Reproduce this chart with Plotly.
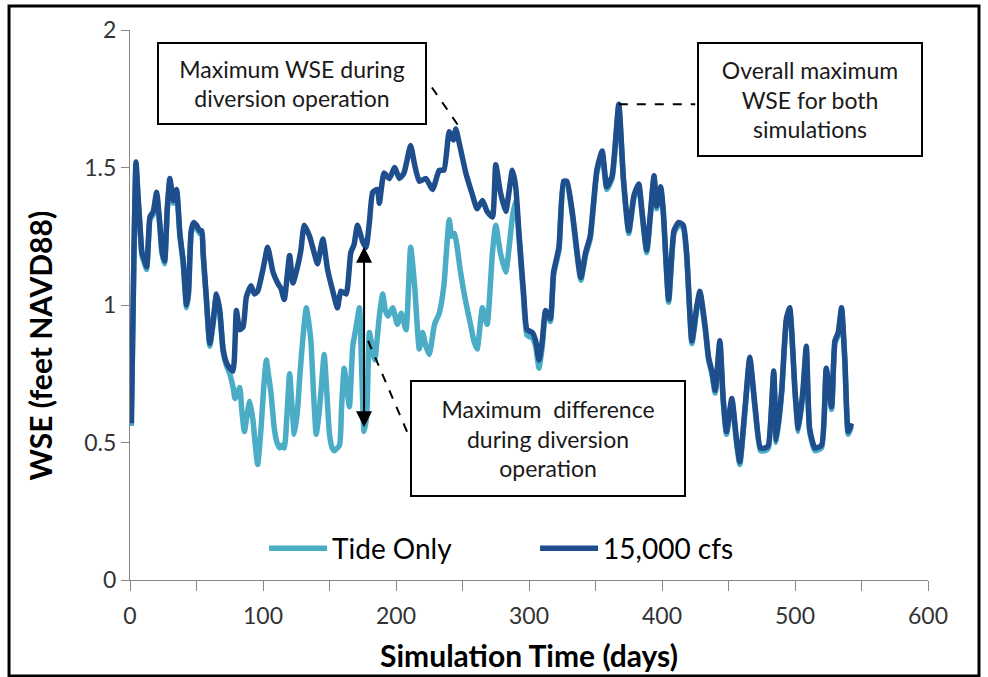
import numpy as np
import plotly.graph_objects as go

# ---------------- data ----------------
days_15k = [1, 3, 4.5, 6, 7.5, 9, 11, 12.5, 14, 15,
            17.5, 20, 22.5, 24, 26, 28, 30, 32.5, 35, 37.5,
            40, 42.5, 44, 46, 48, 50, 52.5, 54, 55, 57.5,
            60, 62.5, 65, 67.5, 70, 72.5, 75, 77.5, 80, 82.5,
            85, 87.5, 91, 93.5, 96, 100, 103.5, 107.5, 111, 113.5,
            116, 120, 122.5, 126, 128.5, 131, 135, 139, 141, 145,
            148.5, 152.5, 156, 158.5, 162.5, 166, 168.5, 171, 175, 177.5,
            180, 182.5, 186, 187.5, 191, 195, 199, 202.5, 206, 211,
            214, 217.5, 222.5, 227.5, 232.5, 236, 240, 243, 245, 247.5,
            252.5, 257.5, 261, 265, 268.5, 272.5, 275, 278.5, 282.5, 287.5,
            290, 292.5,
            296, 298.5, 302.5, 305, 307.5, 310, 312.5, 316, 318.5, 322.5,
            326, 328.5, 332.5, 339, 342.5, 346, 351, 355, 358.5, 362.5,
            367.5, 371, 375, 379, 382.5, 385, 388.5, 394, 396, 399,
            401, 405, 409, 412.5, 416, 418.5, 422.5, 426, 428.5, 432.5,
            435, 437.5, 440, 443.5, 446, 448.5, 452.5, 456, 458.5, 462.5,
            466, 470, 474, 477.5, 480, 484, 486, 490, 493.5, 496,
            500, 502.5, 506, 508.5, 511, 515, 520, 523.5, 527.5, 530,
            532.5, 535, 537.5, 540, 542.5]
wse_15k = [0.57, 1.20, 1.52, 1.40, 1.29, 1.19, 1.16, 1.14, 1.25, 1.32,
           1.34, 1.41, 1.29, 1.20, 1.16, 1.35, 1.46, 1.38, 1.42, 1.26,
           1.16, 1.00, 1.05, 1.27, 1.30, 1.29, 1.27, 1.27, 1.19, 1.02,
           0.86, 0.94, 1.04, 0.98, 0.84, 0.79, 0.77, 0.76, 0.98, 0.91,
           0.92, 1.03, 1.07, 1.04, 1.05, 1.13, 1.21, 1.12, 1.08, 1.06,
           1.02, 1.18, 1.08, 1.14, 1.20, 1.29, 1.25, 1.18, 1.15, 1.24,
           1.13, 1.05, 0.99, 1.05, 1.04, 1.19, 1.22, 1.29, 1.23, 1.21,
           1.30, 1.41, 1.42, 1.37, 1.48, 1.46, 1.50, 1.46, 1.48, 1.58,
           1.51, 1.45, 1.46, 1.42, 1.49, 1.49, 1.63, 1.60, 1.64, 1.59,
           1.48, 1.40, 1.35, 1.38, 1.34, 1.32, 1.51, 1.41, 1.34, 1.49,
           1.43, 1.26,
           1.04, 0.91, 0.90, 0.87, 0.80, 0.87, 0.98, 0.95, 1.12, 1.21,
           1.45, 1.45, 1.34, 1.10, 1.19, 1.25, 1.49, 1.56, 1.43, 1.47,
           1.73, 1.46, 1.27, 1.40, 1.44, 1.34, 1.20, 1.47, 1.36, 1.43,
           1.34, 1.02, 1.27, 1.30, 1.29, 1.19, 0.87, 0.99, 1.05, 0.92,
           0.81, 0.76, 0.69, 0.87, 0.66, 0.54, 0.66, 0.51, 0.43, 0.63,
           0.81, 0.63, 0.48, 0.48, 0.49, 0.76, 0.51, 0.69, 0.95, 0.99,
           0.69, 0.55, 0.69, 0.85, 0.55, 0.48, 0.49, 0.77, 0.63, 0.87,
           0.90, 0.99, 0.80, 0.54, 0.57]

days_tide = [1, 3, 4.5, 6, 7.5, 9, 11, 12.5, 14, 15,
             17.5, 20, 22.5, 24, 26, 28, 30, 32.5, 35, 37.5,
             40, 42.5, 44, 46, 48, 50, 52.5, 54, 55, 57.5,
             60, 62.5, 65, 67.5,
             70, 72.5, 75, 77.5, 79, 82.5, 84, 86, 88, 90,
             92.5, 94, 96, 98.5, 100.5, 102.5, 104, 106, 108.5, 110.5,
             112.5, 114, 116, 118, 120, 122, 123.5, 126, 127.5, 130,
             132.5, 134, 136, 138, 140, 142, 143.5, 146, 148, 150,
             152, 153.5, 157.5, 159, 161, 163, 165, 167.5, 170, 172.5,
             174, 176, 178, 180, 182, 184, 187.5, 190, 192, 194,
             197.5, 201, 204, 207.5, 211, 214, 217.5, 220, 222.5, 225,
             229, 232.5, 236, 240, 242, 244, 246, 248.5, 252.5, 256,
             258.5, 261, 265, 268.5, 272.5, 275, 278.5, 282.5, 287.5, 290,
             292.5,
             296, 298.5, 302.5, 305, 307.5, 310, 312.5, 316, 318.5, 322.5,
             326, 328.5, 332.5, 339, 342.5, 346, 351, 355, 358.5, 362.5,
             367.5, 371, 375, 379, 382.5, 385, 388.5, 394, 396, 399,
             401, 405, 409, 412.5, 416, 418.5, 422.5, 426, 428.5, 432.5,
             435, 437.5, 440, 443.5, 446, 448.5, 452.5, 456, 458.5, 462.5,
             466, 470, 474, 477.5, 480, 484, 486, 490, 493.5, 496,
             500, 502.5, 506, 508.5, 511, 515, 520, 523.5, 527.5, 530,
             532.5, 535, 537.5, 540, 542.5]
wse_tide = [0.56, 1.19, 1.51, 1.39, 1.28, 1.18, 1.15, 1.13, 1.24, 1.31,
            1.33, 1.40, 1.28, 1.19, 1.15, 1.34, 1.45, 1.37, 1.41, 1.25,
            1.15, 0.99, 1.04, 1.26, 1.29, 1.28, 1.26, 1.26, 1.18, 1.01,
            0.85, 0.93, 1.03, 0.97,
            0.83, 0.78, 0.75, 0.70, 0.66, 0.70, 0.62, 0.54, 0.60, 0.65,
            0.58, 0.50, 0.42, 0.55, 0.70, 0.80, 0.75, 0.68, 0.55, 0.50,
            0.48, 0.49, 0.48, 0.60, 0.75, 0.62, 0.53, 0.62, 0.73, 0.88,
            0.99, 0.95, 0.87, 0.68, 0.53, 0.60, 0.68, 0.82, 0.68, 0.53,
            0.48, 0.47, 0.49, 0.62, 0.77, 0.70, 0.63, 0.85, 0.92, 0.99,
            0.80, 0.54, 0.60, 0.90, 0.85, 0.80, 0.96, 1.04, 0.98, 0.96,
            0.99, 0.93, 0.97, 0.91, 1.21, 1.07, 0.84, 0.90, 0.85, 0.82,
            0.93, 0.97, 1.07, 1.31, 1.25, 1.26, 1.21, 1.12, 1.01, 0.93,
            0.87, 0.84, 0.99, 0.93, 1.19, 1.29, 1.19, 1.12, 1.32, 1.38,
            1.24,
            1.02, 0.89, 0.88, 0.85, 0.77, 0.85, 0.97, 0.94, 1.11, 1.20,
            1.44, 1.44, 1.33, 1.09, 1.18, 1.24, 1.48, 1.55, 1.42, 1.46,
            1.72, 1.45, 1.26, 1.39, 1.43, 1.33, 1.19, 1.46, 1.35, 1.42,
            1.33, 1.01, 1.26, 1.29, 1.28, 1.18, 0.86, 0.98, 1.04, 0.91,
            0.80, 0.75, 0.68, 0.86, 0.65, 0.53, 0.65, 0.50, 0.42, 0.62,
            0.80, 0.62, 0.47, 0.47, 0.48, 0.75, 0.50, 0.68, 0.94, 0.98,
            0.68, 0.54, 0.68, 0.84, 0.54, 0.47, 0.48, 0.76, 0.62, 0.86,
            0.89, 0.98, 0.79, 0.53, 0.56]

series_names = ["Tide Only", "15,000 cfs"]
x_tick_vals = [0, 50, 100, 150, 200, 250, 300, 350, 400, 450, 500, 550, 600]
x_tick_text = ["0", "", "100", "", "200", "", "300", "", "400", "", "500", "", "600"]
y_tick_vals = [0, 0.5, 1, 1.5, 2]
y_tick_text = ["0", "0.5", "1", "1.5", "2"]
diversion_window = [70, 295]

# ---------------- styling ----------------
LIGHT = "#4BACC6"
DARK = "#1F4E8C"
FONT = "Lato, Carlito, Calibri, sans-serif"

fig = go.Figure()
fig.add_trace(go.Scatter(x=days_tide, y=wse_tide, mode="lines", name=series_names[0],
                         line=dict(color=LIGHT, width=5.5, shape="spline", smoothing=0.5)))
fig.add_trace(go.Scatter(x=days_15k, y=wse_15k, mode="lines", name=series_names[1],
                         line=dict(color=DARK, width=5.5, shape="spline", smoothing=0.5)))

# derived annotation anchors from the data
d15 = np.array(days_15k); w15 = np.array(wse_15k)
dt = np.array(days_tide); wt = np.array(wse_tide)
overall_i = int(np.argmax(w15))
overall_day, overall_max = d15[overall_i], w15[overall_i]
win = (d15 >= diversion_window[0]) & (d15 <= diversion_window[1])
div_i = int(np.argmax(np.where(win, w15, -1)))
div_day, div_max = d15[div_i], w15[div_i]
wint = (dt >= diversion_window[0]) & (dt <= diversion_window[1])
diff = np.interp(dt, d15, w15) - wt
diff_i = int(np.argmax(np.where(wint, diff, -1)))
diff_day = dt[diff_i]
diff_lo = wt[diff_i]
diff_hi = float(np.interp(diff_day, d15, w15))

box = dict(showarrow=False, bordercolor="black", borderwidth=2, borderpad=0,
           bgcolor="white", font=dict(family=FONT, size=23, color="#1a1a1a"),
           xref="x", yref="y", xanchor="center", yanchor="middle", align="center")

annotations = [
    dict(text="Maximum WSE during<br>diversion operation", x=121.8, y=1.804,
         width=266, height=79, **box),
    dict(text="Maximum  difference<br>during diversion<br>operation", x=314.3, y=0.514,
         width=272, height=113, **box),
    dict(text="Overall maximum<br>WSE for both<br>simulations", x=511, y=1.746,
         width=222, height=111, **box),
    # double arrow for the maximum difference
    dict(x=diff_day, y=diff_hi - 0.01, ax=diff_day, ay=diff_lo + 0.01,
         xref="x", yref="y", axref="x", ayref="y", text="", showarrow=True,
         arrowhead=2, startarrowhead=2, arrowside="end+start",
         arrowsize=1.6, startarrowsize=1.6, arrowwidth=2, arrowcolor="black"),
    # y axis title (placed like the original, slightly below the axis centre)
    dict(text="<b>WSE (feet NAVD88)</b>", textangle=-90, showarrow=False,
         xref="paper", yref="paper", x=-0.113, y=0.426, xanchor="center", yanchor="middle",
         font=dict(family=FONT, size=30, color="#000")),
]

shapes = [
    # dashed leader lines
    dict(type="line", xref="x", yref="y", x0=227, y0=1.791, x1=div_day + 1.5, y1=div_max + 0.015,
         line=dict(color="black", width=2, dash="dash")),
    dict(type="line", xref="x", yref="y", x0=overall_day, y0=overall_max, x1=425, y1=overall_max,
         line=dict(color="black", width=2, dash="dash")),
    dict(type="line", xref="x", yref="y", x0=diff_day + 3, y0=0.87, x1=210, y1=0.52,
         line=dict(color="black", width=2, dash="dash")),
    # outer frame
    dict(type="rect", xref="paper", yref="paper", x0=-0.1516, y0=-0.1745, x1=1.0639, y1=1.0436,
         line=dict(color="black", width=3), fillcolor="rgba(0,0,0,0)"),
]

fig.update_layout(
    width=988, height=677,
    margin=dict(l=130, r=60, t=30, b=97),
    paper_bgcolor="white", plot_bgcolor="white",
    font=dict(family=FONT, color="#000"),
    showlegend=True,
    legend=dict(orientation="h", x=0.168, y=0.057, xanchor="left", yanchor="middle",
                bgcolor="rgba(0,0,0,0)", font=dict(family=FONT, size=28, color="#000"),
                itemwidth=58, entrywidth=198, tracegroupgap=0),
    annotations=annotations,
    shapes=shapes,
)
fig.update_xaxes(range=[0, 600], tickvals=x_tick_vals, ticktext=x_tick_text,
                 ticks="outside", ticklen=10, tickcolor="#868686", tickwidth=1,
                 showline=True, linecolor="#868686", linewidth=1, automargin=False,
                 showgrid=False, zeroline=False, ticklabelstandoff=5,
                 tickfont=dict(family=FONT, size=23, color="#333"),
                 title=dict(text="<b>Simulation Time (days)</b>", standoff=18,
                            font=dict(family=FONT, size=30, color="#000")))
fig.update_yaxes(range=[0, 2], tickvals=y_tick_vals, ticktext=y_tick_text,
                 ticks="outside", ticklen=8, tickcolor="#868686", tickwidth=1,
                 showline=True, linecolor="#868686", linewidth=1, automargin=False,
                 showgrid=False, zeroline=False,
                 tickfont=dict(family=FONT, size=23, color="#333"))

fig.write_html("out.html")
